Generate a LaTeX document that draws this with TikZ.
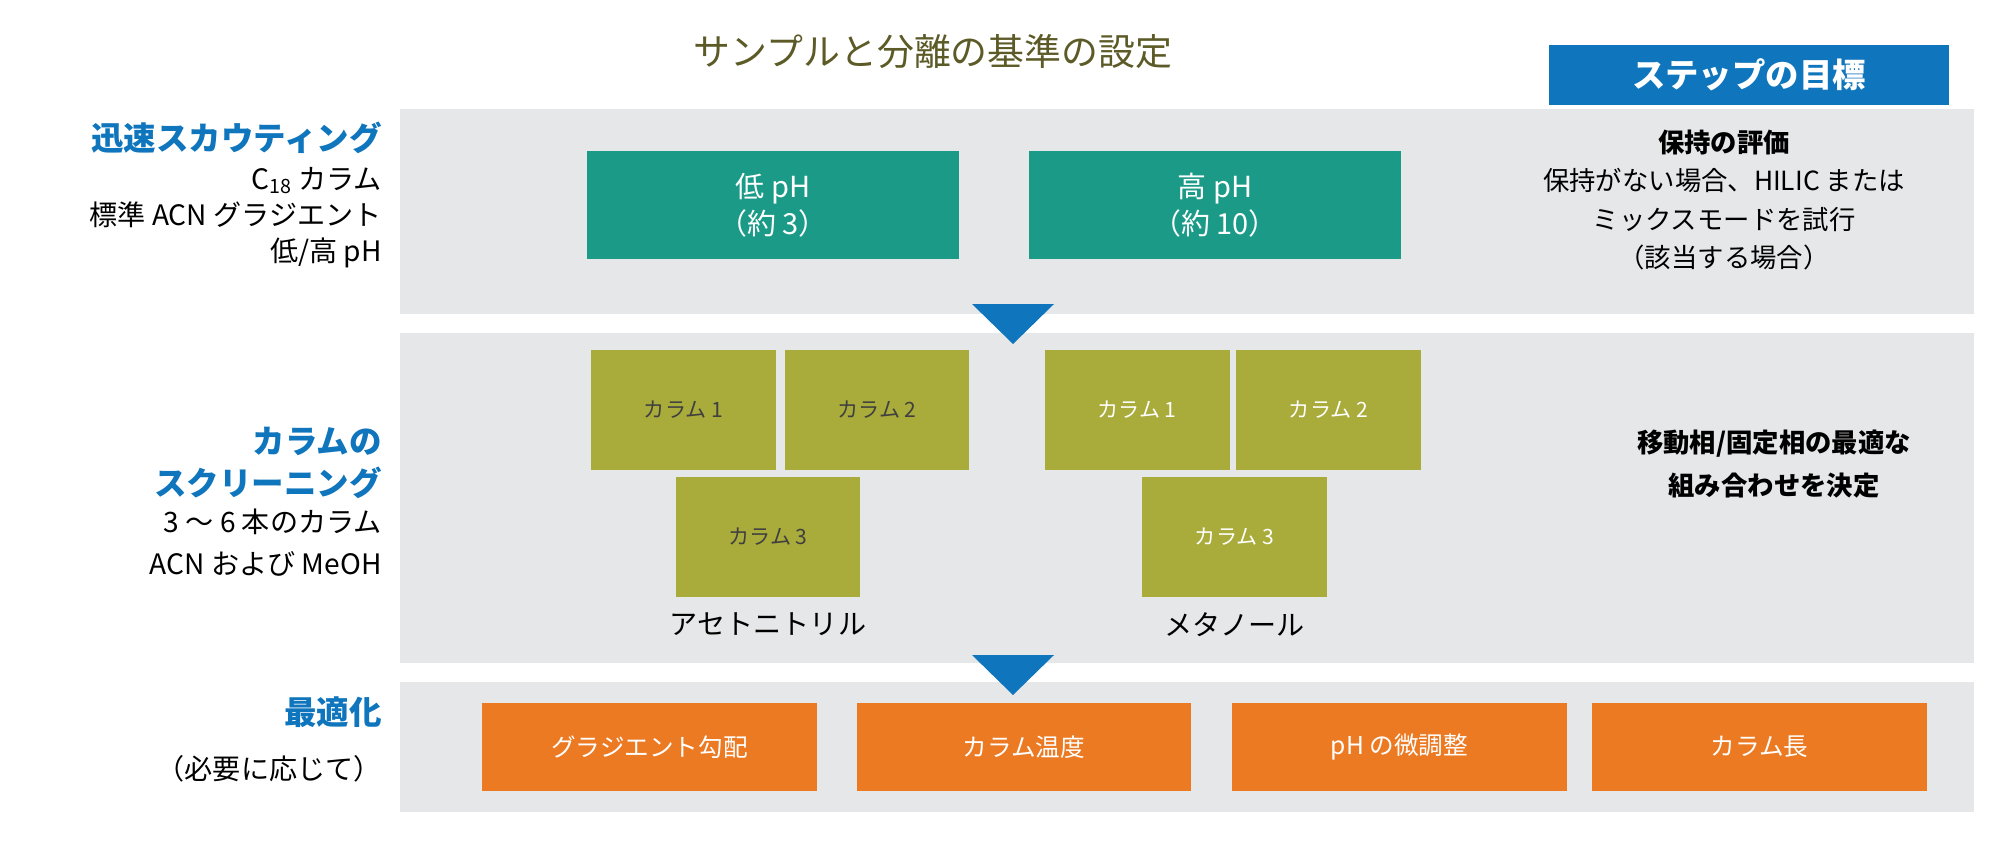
\documentclass[tikz,border=0pt]{standalone}
\usepackage{fontspec}
\setmainfont{Noto Sans CJK JP}
\usetikzlibrary{positioning}
\definecolor{bandgray}{HTML}{E6E7E8}
\definecolor{tealc}{HTML}{1B9B87}
\definecolor{olivec}{HTML}{A9AB3A}
\definecolor{orangec}{HTML}{EC7A23}
\definecolor{bluec}{HTML}{0F75BC}
\definecolor{titlec}{HTML}{5C5A26}

\begin{document}
\begin{tikzpicture}[x=0.02cm, y=-0.02cm,
	every node/.style={font=\fontsize{16}{20}\selectfont, inner sep=0pt},
	band/.style={rectangle, fill=bandgray, minimum width=31.48cm},
	phbox/.style={rectangle, fill=tealc, text=white, minimum width=7.44cm, minimum height=2.16cm, align=center, font=\fontsize{16.5}{21}\selectfont},
	colbox/.style={rectangle, fill=olivec, text=black!75, minimum width=3.7cm, minimum height=2.4cm, font=\fontsize{12}{14}\selectfont},
	optbox/.style={rectangle, fill=orangec, text=white, minimum width=6.7cm, minimum height=1.76cm, font=\fontsize{14}{17}\selectfont},
	steplabel/.style={anchor=east, text=bluec, font=\bfseries\fontsize{18.5}{22}\selectfont},
	stepnote/.style={anchor=east, align=right},
	goal/.style={align=center, font=\fontsize{15}{22}\selectfont}
	]
\useasboundingbox (0,0) rectangle (2000,845);

% Bands
\node [band, minimum height=4.1cm] (scouting) at (1187,211.5) {};
\node [band, minimum height=6.6cm] (screening) at (1187,498) {};
\node [band, minimum height=2.6cm] (optimize) at (1187,747) {};

% Title and header
\node [text=titlec, font=\fontsize{21}{25}\selectfont] (title) at (933,51) {サンプルと分離の基準の設定};
\node [rectangle, fill=bluec, text=white, minimum width=8cm, minimum height=1.2cm, font=\bfseries\fontsize{19}{23}\selectfont] (goalhead) at (1749,75) {ステップの目標};

% Arrows between bands
\fill [bluec] (972,304) -- (1054,304) -- (1013,344) -- cycle;
\fill [bluec] (972,655) -- (1054,655) -- (1013,695) -- cycle;

% Scouting
\node [phbox] (lowph) at (773,205) {低 pH\\（約 3）};
\node [phbox] (highph) at (1215,205) {高 pH\\（約 10）};

% Screening
\node [colbox] (acn1) at (683.5,410) {カラム 1};
\node [colbox] (acn2) at (877,410) {カラム 2};
\node [colbox] (acn3) at (768,537) {カラム 3};
\node [below=0.3cm of acn3] (acn) {アセトニトリル};
\node [colbox, text=white] (meoh1) at (1137,410) {カラム 1};
\node [colbox, text=white] (meoh2) at (1328.5,410) {カラム 2};
\node [colbox, text=white] (meoh3) at (1234.5,537) {カラム 3};
\node [below=0.3cm of meoh3] (meoh) {メタノール};

% Optimization
\node [optbox] (gradient) at (649.5,747) {グラジエント勾配};
\node [optbox] (temp) at (1024,747) {カラム温度};
\node [optbox] (phtune) at (1399.5,747) {pH の微調整};
\node [optbox] (length) at (1759.5,747) {カラム長};

% Left labels
\node [steplabel] (scoutlab) at (382,138) {迅速スカウティング};
\node [stepnote, below left=0.25cm and 0cm of scoutlab.south east, font=\fontsize{16}{20.5}\selectfont] (scoutnote) {C\textsubscript{18} カラム\\標準 ACN グラジエント\\低/高 pH};
\node [steplabel, align=right, font=\bfseries\fontsize{18.5}{23.5}\selectfont] (screenlab) at (382,463) {カラムの\\スクリーニング};
\node [stepnote, below left=0.2cm and 0cm of screenlab.south east, font=\fontsize{16}{23.5}\selectfont] (screennote) {3 ～ 6 本のカラム\\ACN および MeOH};
\node [steplabel] (optlab) at (382,712) {最適化};
\node [stepnote] (optnote) at (382,769) {（必要に応じて）};

% Goals
\node [goal] (goal1) at (1724,200) {\textbf{保持の評価}\\保持がない場合、HILIC または\\ミックスモードを試行\\（該当する場合）};
\node [goal, font=\bfseries\fontsize{15}{24}\selectfont] (goal2) at (1774,464) {移動相/固定相の最適な\\組み合わせを決定};

\end{tikzpicture}
\end{document}
